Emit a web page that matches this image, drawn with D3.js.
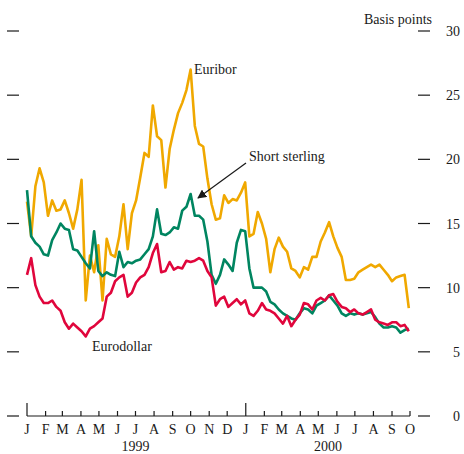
<!DOCTYPE html>
<html>
<head>
<meta charset="utf-8">
<script src="https://cdn.jsdelivr.net/npm/d3@7"></script>
<style>
  html, body { margin: 0; padding: 0; background: #fff; }
  svg { display: block; }
  text { font-family: "Liberation Serif", "DejaVu Serif", serif; fill: #1a1a1a; }
</style>
</head>
<body>
<svg id="chart" width="464" height="454"></svg>
<script>
// Weekly observations starting 1 January 1999 (basis points)
const startDate = new Date(1999, 0, 1);
const stepDays = 7;

const euribor = [
  16.7, 14.0, 17.9, 19.3, 18.2, 15.6, 16.8, 16.0, 16.1, 16.8,
  15.8, 14.6, 16.1, 18.4, 9.0, 12.5, 11.2, 13.3, 9.0, 13.8,
  12.6, 12.4, 14.0, 16.5, 13.0, 15.8, 16.8, 18.6, 20.5, 20.2,
  24.2, 21.8, 21.5, 17.8, 20.8, 22.3, 23.6, 24.4, 25.4, 27.0,
  22.6, 21.2, 21.0, 18.5, 16.5, 15.3, 15.4, 17.2, 16.6, 16.9,
  16.8, 17.4, 18.2, 14.0, 14.2, 15.9, 15.0, 13.8, 11.2, 13.0,
  13.9, 13.2, 12.8, 11.5, 11.3, 10.8, 11.6, 11.4, 12.4, 12.4,
  13.6, 14.3, 15.1, 14.0, 13.1, 12.4, 10.6, 10.6, 10.7, 11.2,
  11.4, 11.6, 11.8, 11.6, 11.8, 11.4, 11.0, 10.5, 10.8, 10.9,
  11.0, 8.4
];

const shortSterling = [
  17.6, 14.0, 13.5, 13.2, 12.6, 12.5, 13.7, 14.3, 15.0, 14.6,
  14.5, 13.0, 12.9, 12.4, 11.9, 11.5, 14.4, 11.3, 10.9, 11.2,
  11.0, 10.9, 12.8, 11.6, 12.0, 11.9, 12.1, 12.2, 12.6, 13.0,
  14.0, 16.1, 14.2, 14.1, 14.3, 14.7, 14.6, 16.0, 16.3, 17.3,
  15.6, 15.6, 15.3, 13.6, 11.0, 10.3, 11.0, 12.2, 11.8, 11.3,
  13.5, 14.5, 14.4, 11.5, 10.0, 10.0, 10.0, 9.7, 8.9, 8.7,
  8.3, 8.0, 7.8, 7.6, 7.5, 8.0, 8.4, 8.3, 8.0, 8.6,
  8.8, 9.0, 9.4, 9.0, 8.6, 8.0, 7.8, 8.0, 7.9, 8.0,
  7.9, 8.0, 8.1, 7.7, 7.2, 6.9, 6.9, 7.0, 6.9, 6.5,
  6.7, 6.8
];

const eurodollar = [
  11.0, 12.3, 10.2, 9.3, 8.8, 8.8, 9.0, 8.5, 8.2, 7.3,
  6.8, 7.2, 6.9, 6.6, 6.2, 6.8, 7.0, 7.3, 7.6, 9.3,
  9.6, 10.5, 10.8, 11.0, 9.3, 9.6, 10.4, 10.8, 11.0, 11.6,
  12.7, 13.4, 11.2, 11.3, 12.0, 11.4, 11.6, 11.5, 12.1, 12.0,
  12.1, 12.3, 12.1, 11.3, 10.8, 8.6, 9.1, 9.3, 8.5, 8.8,
  9.1, 8.7, 9.0, 8.0, 7.8, 8.2, 8.8, 8.3, 8.2, 8.0,
  7.6, 7.2, 7.8, 7.0, 7.5, 7.9, 8.8, 8.7, 8.3, 9.0,
  9.2, 9.0, 9.4, 9.5, 8.9, 8.5, 8.4, 8.1, 8.3, 8.0,
  7.9, 8.1, 8.3, 7.5, 7.3, 7.2, 7.1, 7.3, 7.3, 7.0,
  7.1, 6.6
];

const yTicks = [0, 5, 10, 15, 20, 25, 30];
const monthLetters = ["J","F","M","A","M","J","J","A","S","O","N","D"];
const yearLabels = [
  { year: "1999", date: new Date(1999, 6, 1) },
  { year: "2000", date: new Date(2000, 4, 17) }
];

const series = [
  { name: "Euribor", values: euribor, color: "#f0a800" },
  { name: "Short sterling", values: shortSterling, color: "#008560" },
  { name: "Eurodollar", values: eurodollar, color: "#e0063c" }
];

const svg = d3.select("#chart");

const x = d3.scaleTime()
  .domain([new Date(1999, 0, 1), new Date(2000, 9, 1)])
  .range([27, 410]);
const y = d3.scaleLinear().domain([0, 30]).range([416, 31]);

// Horizontal tick dashes on both sides, values on the right
const tickG = svg.append("g");
yTicks.forEach(v => {
  tickG.append("line")
    .attr("x1", 7).attr("x2", 19)
    .attr("y1", y(v)).attr("y2", y(v))
    .attr("stroke", "#1a1a1a").attr("stroke-width", 1.2);
  tickG.append("line")
    .attr("x1", 418).attr("x2", 430)
    .attr("y1", y(v)).attr("y2", y(v))
    .attr("stroke", "#1a1a1a").attr("stroke-width", 1.2);
  tickG.append("text")
    .attr("x", 460).attr("y", y(v) + 5)
    .attr("text-anchor", "end")
    .attr("font-size", 14)
    .text(v);
});

svg.append("text")
  .attr("x", 432).attr("y", 24)
  .attr("text-anchor", "end")
  .attr("font-size", 14)
  .text("Basis points");

// Time axis: baseline with month ticks, taller at January
const months = d3.timeMonth.range(new Date(1999, 0, 1), new Date(2000, 9, 2));
const axisG = svg.append("g");
axisG.append("line")
  .attr("x1", x(months[0])).attr("x2", x(months[months.length - 1]))
  .attr("y1", y(0)).attr("y2", y(0))
  .attr("stroke", "#1a1a1a").attr("stroke-width", 1.2);
months.forEach(m => {
  const isJan = m.getMonth() === 0;
  axisG.append("line")
    .attr("x1", x(m)).attr("x2", x(m))
    .attr("y1", y(0)).attr("y2", y(0) - (isJan ? 13 : 5))
    .attr("stroke", "#1a1a1a").attr("stroke-width", 1.2);
  axisG.append("text")
    .attr("x", x(m)).attr("y", 434)
    .attr("text-anchor", "middle")
    .attr("font-size", 14)
    .text(monthLetters[m.getMonth()]);
});
yearLabels.forEach(d => {
  axisG.append("text")
    .attr("x", x(d.date)).attr("y", 451)
    .attr("text-anchor", "middle")
    .attr("font-size", 14)
    .text(d.year);
});

// Series lines
const dateAt = i => d3.timeDay.offset(startDate, i * stepDays);
const line = d3.line()
  .x((d, i) => x(dateAt(i)))
  .y(d => y(d))
  .curve(d3.curveLinear);

series.forEach(s => {
  svg.append("path")
    .datum(s.values)
    .attr("fill", "none")
    .attr("stroke", s.color)
    .attr("stroke-width", 2.6)
    .attr("stroke-linejoin", "round")
    .attr("d", line);
});

// Series labels
svg.append("text").attr("x", 194).attr("y", 74).attr("font-size", 14).text("Euribor");
svg.append("text").attr("x", 249).attr("y", 161).attr("font-size", 14).text("Short sterling");
svg.append("text").attr("x", 92).attr("y", 351).attr("font-size", 14).text("Eurodollar");

// Arrow pointing at the short sterling line
svg.append("defs").append("marker")
  .attr("id", "arrowhead")
  .attr("viewBox", "0 0 10 10")
  .attr("refX", 9).attr("refY", 5)
  .attr("markerWidth", 9).attr("markerHeight", 9)
  .attr("markerUnits", "userSpaceOnUse")
  .attr("orient", "auto")
  .append("path")
  .attr("d", "M0,0 L10,5 L0,10 Z")
  .attr("fill", "#1a1a1a");

svg.append("line")
  .attr("x1", 246).attr("y1", 163)
  .attr("x2", 198).attr("y2", 198)
  .attr("stroke", "#1a1a1a").attr("stroke-width", 1.2)
  .attr("marker-end", "url(#arrowhead)");
</script>
</body>
</html>
